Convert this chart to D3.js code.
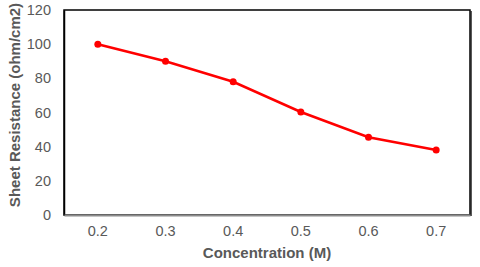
<!DOCTYPE html>
<html>
<head>
<meta charset="utf-8">
<script src="https://cdn.jsdelivr.net/npm/d3@7"></script>
<style>
  body { margin: 0; background: #fff; }
  svg text { font-family: "Liberation Sans", Arial, sans-serif; }
</style>
</head>
<body>
<div id="chart"></div>
<script>
// data
var concentrations = ["0.2", "0.3", "0.4", "0.5", "0.6", "0.7"];
var resistance = [100, 90, 78, 60.3, 45.5, 38];
var yTicks = [0, 20, 40, 60, 80, 100, 120];

var W = 480, H = 267;
var margin = {top: 10, right: 10, bottom: 52, left: 64},
    width = 470 - margin.left,
    height = 215 - margin.top;

var svg = d3.select("#chart").append("svg")
    .attr("width", W)
    .attr("height", H);

var g = svg.append("g")
    .attr("transform", "translate(" + margin.left + "," + margin.top + ")");

var x = d3.scaleBand()
    .domain(concentrations)
    .range([0, width])
    .padding(0);

var y = d3.scaleLinear()
    .domain([0, 120])
    .range([height, 0]);

// plot frame (right edge a bit heavier like the original)
g.append("rect")
    .attr("x", 0).attr("y", 0)
    .attr("width", width).attr("height", height)
    .attr("fill", "#fff")
    .attr("stroke", "#000")
    .attr("stroke-width", 1.5);
g.append("line")
    .attr("x1", width + 1).attr("x2", width + 1)
    .attr("y1", 1).attr("y2", height + 1)
    .attr("stroke", "#222").attr("stroke-width", 1.5);

// y axis labels
var yAxis = g.append("g")
    .call(d3.axisLeft(y).tickValues(yTicks).tickSize(0).tickPadding(13));
yAxis.select(".domain").attr("stroke", "#000").attr("stroke-width", 1.5);
yAxis.selectAll("text")
    .attr("fill", "#595959")
    .style("font-size", "14.5px");

// x axis
var xAxis = g.append("g")
    .attr("transform", "translate(0," + height + ")")
    .call(d3.axisBottom(x).tickSize(0).tickPadding(11));
xAxis.select(".domain").attr("stroke", "#8c8c8c").attr("stroke-width", 2);
xAxis.selectAll("text")
    .attr("fill", "#595959")
    .style("font-size", "14.5px");

// line
var line = d3.line()
    .x(function(d, i) { return x(concentrations[i]) + x.bandwidth() / 2; })
    .y(function(d) { return y(d); });

g.append("path")
    .datum(resistance)
    .attr("fill", "none")
    .attr("stroke", "#ff0000")
    .attr("stroke-width", 2.5)
    .attr("d", line);

g.selectAll("circle.pt")
    .data(resistance)
    .enter().append("circle")
    .attr("class", "pt")
    .attr("cx", function(d, i) { return x(concentrations[i]) + x.bandwidth() / 2; })
    .attr("cy", function(d) { return y(d); })
    .attr("r", 3.5)
    .attr("fill", "#ff0000");

// axis titles
svg.append("text")
    .attr("x", margin.left + width / 2)
    .attr("y", 258)
    .attr("text-anchor", "middle")
    .attr("fill", "#595959")
    .style("font-size", "15px")
    .style("font-weight", "bold")
    .text("Concentration (M)");

svg.append("text")
    .attr("transform", "translate(20,105) rotate(-90)")
    .attr("text-anchor", "middle")
    .attr("fill", "#595959")
    .style("font-size", "15px")
    .style("font-weight", "bold")
    .text("Sheet Resistance (ohm/cm2)");
</script>
</body>
</html>
